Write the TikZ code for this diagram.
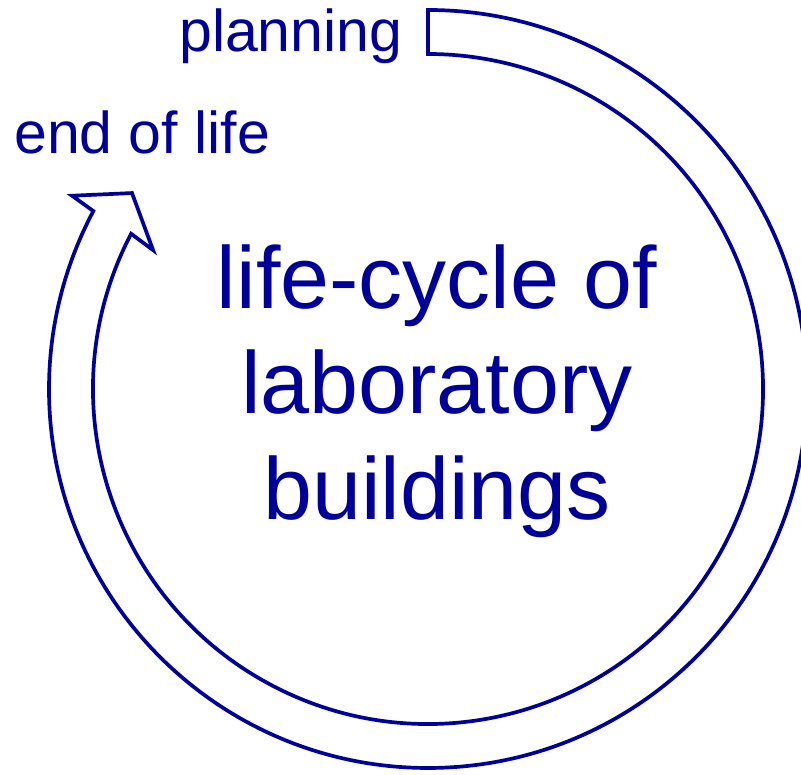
\documentclass[tikz,border=0pt]{standalone}
\usepackage{fontspec}
\setmainfont{Liberation Sans}
\usetikzlibrary{calc}
\definecolor{cycblue}{RGB}{0,0,153}
\begin{document}
\begin{tikzpicture}[x=1pt,y=1pt,
  band/.style={draw=cycblue,line width=3.7pt,line join=miter,fill=white},
  small/.style={text=cycblue,inner sep=0pt,anchor=base west,font=\fontsize{59}{70}\selectfont},
  big/.style={text=cycblue,inner sep=0pt,anchor=base,font=\fontsize{88}{106}\selectfont}]
\useasboundingbox (0,0) rectangle (801,775);
\coordinate (C) at (428,386);
\coordinate (os) at ($(C)+(90:379)$);
\coordinate (ob) at ($(C)+(151.5:405)$);
\coordinate (tip) at ($(C)+(146.5:355)$);
\coordinate (ib) at ($(C)+(153.2:308)$);
\coordinate (ie) at ($(C)+(-207.6:335)$);
\draw[band] (os) arc[start angle=90,end angle=-208,radius=379]
  -- (ob) -- (tip) -- (ib) -- (ie)
  arc[start angle=-207.6,end angle=90,radius=335] -- cycle;
\node[small] (plan) at (179,723) {planning};
\node[small] (eol) at (14,621) {end of life};
\node[big] (t1) at (437,466) {life-cycle of};
\node[big] (t2) at (437,361) {laboratory};
\node[big] (t3) at (437,255) {buildings};
\end{tikzpicture}
\end{document}
